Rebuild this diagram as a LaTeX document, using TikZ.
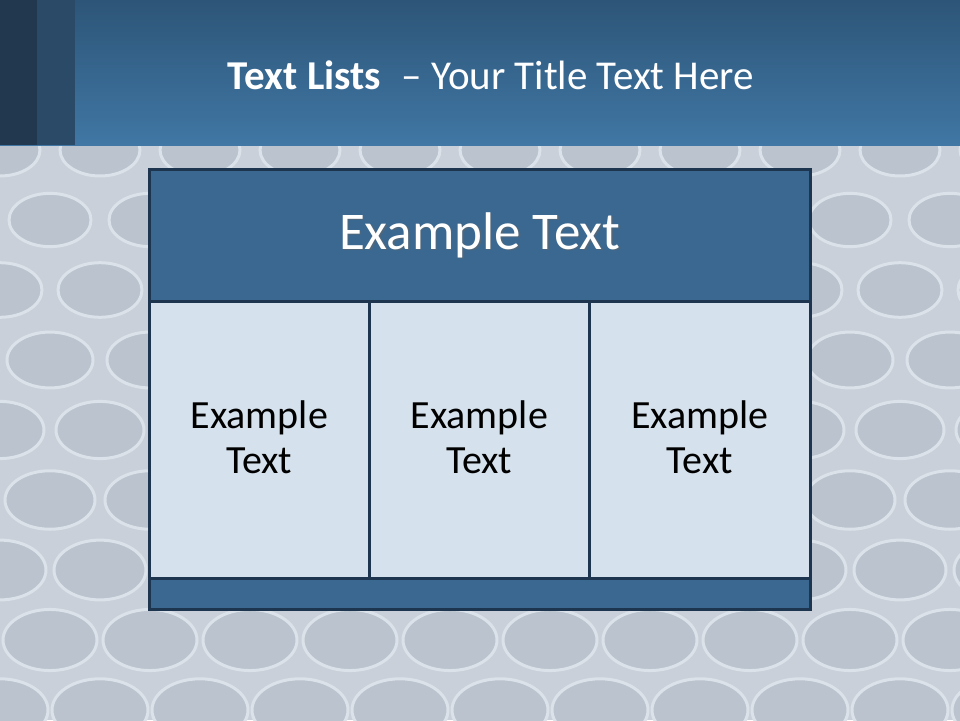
\documentclass[tikz,border=0pt]{standalone}
\usepackage{fontspec}
\setmainfont{Carlito}
\usetikzlibrary{calc}
\definecolor{bgbase}{HTML}{C9D0D9}
\definecolor{hole}{HTML}{BAC3CE}
\definecolor{holerim}{HTML}{DCE2E9}
\definecolor{stripA}{HTML}{22384F}
\definecolor{stripB}{HTML}{2B4A68}
\definecolor{headTop}{HTML}{2D5578}
\definecolor{headBot}{HTML}{4077A4}
\definecolor{boxline}{HTML}{1E3550}
\definecolor{boxhead}{HTML}{3A6890}
\definecolor{cellfill}{HTML}{D5E1EC}
\tikzset{
  cellbox/.style={draw=boxline, line width=2.6pt, fill=cellfill},
  headbox/.style={draw=boxline, line width=2.6pt, fill=boxhead},
  celltext/.style={text=black, font=\fontsize{40}{45}\selectfont, align=center},
  headtext/.style={text=white, font=\fontsize{53}{58}\selectfont},
  holeshape/.style={fill=hole, draw=holerim, line width=3pt},
}
\begin{document}
\begin{tikzpicture}[x=1pt,y=-1pt]
\useasboundingbox (0,0) rectangle (960,720);
% background
\fill[bgbase] (0,145) rectangle (960,720);
\begin{scope}
\clip (0,145) rectangle (960,720);
\foreach \r in {0,...,8}{
  \pgfmathsetmacro{\yy}{150+\r*70}
  \pgfmathsetmacro{\off}{mod(\r,2)*50}
  \pgfmathsetmacro{\sc}{1+\r*0.025}
  \foreach \c in {-1,...,10}{
    \pgfmathsetmacro{\xx}{\c*100+\off}
    \fill[holeshape] (\xx,\yy) ellipse [x radius=40*\sc, y radius=26*\sc];
  }
}
\end{scope}
% header band
\shade[top color=headTop, bottom color=headBot] (0,0) rectangle (960,145);
\fill[stripA] (0,0) rectangle (37,145);
\fill[stripB] (37,0) rectangle (75,145);
\node (title) at (491,75) {\textcolor{white}{\fontsize{41}{46}\selectfont\textbf{Text Lists}\enspace– Your Title Text Here}};
% table
\node[headbox, minimum width=661, minimum height=132, anchor=north west, inner sep=0] (head) at (148,168) {};
\node[headtext, text=black!60, opacity=0.5] (headshadow) at ($(head.center)+(1.5,1.5)$) {Example Text};
\node[headtext] (headlbl) at (head.center) {Example Text};
\node[cellbox, minimum width=220, minimum height=277, anchor=north west, inner sep=0] (c1) at (148,300) {};
\node[cellbox, minimum width=220, minimum height=277, anchor=north west, inner sep=0] (c2) at (368,300) {};
\node[cellbox, minimum width=221, minimum height=277, anchor=north west, inner sep=0] (c3) at (588,300) {};
\node[headbox, minimum width=661, minimum height=31, anchor=north west, inner sep=0] (foot) at (148,577) {};
\node[celltext] (t1) at ($(c1.center)+(0,-3)$) {Example\\Text};
\node[celltext] (t2) at ($(c2.center)+(0,-3)$) {Example\\Text};
\node[celltext] (t3) at ($(c3.center)+(0,-3)$) {Example\\Text};
\end{tikzpicture}
\end{document}
